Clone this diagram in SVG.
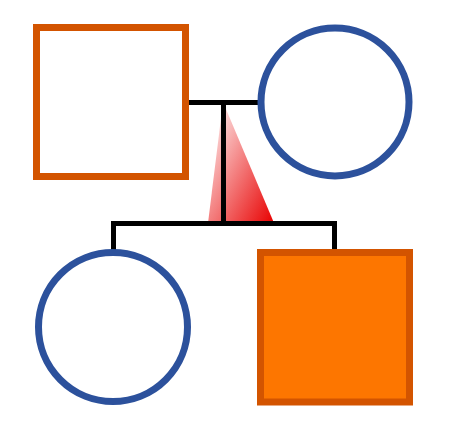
<svg xmlns="http://www.w3.org/2000/svg" width="456" height="430" viewBox="0 0 456 430">
<style>
.male{stroke:#d35400;stroke-width:7}
.female{fill:#fff;stroke:#2c519c;stroke-width:7}
.line{stroke:#000;stroke-width:5;fill:none}
</style>
<defs>
<linearGradient id="g" x1="0" y1="0" x2="1" y2="1">
<stop offset="0" stop-color="#fff"/>
<stop offset="1" stop-color="#e80000"/>
</linearGradient>
</defs>
<rect width="456" height="430" fill="#fff"/>
<polygon points="223,102 208,223 274,223" fill="url(#g)"/>
<g id="connectors">
<path class="line" d="M186,102.5H260M223.5,102.5V223M111,223.5H337M113.5,221V253M334.5,221V253"/>
</g>
<g id="father"><rect class="male" x="36.5" y="27.5" width="149" height="149" fill="#fff"/></g>
<g id="mother"><circle class="female" cx="335" cy="102" r="74"/></g>
<g id="daughter"><circle class="female" cx="113" cy="327" r="74.5"/></g>
<g id="son"><rect class="male" x="260.5" y="252.5" width="149" height="149.5" fill="#fd7600"/></g>
</svg>
